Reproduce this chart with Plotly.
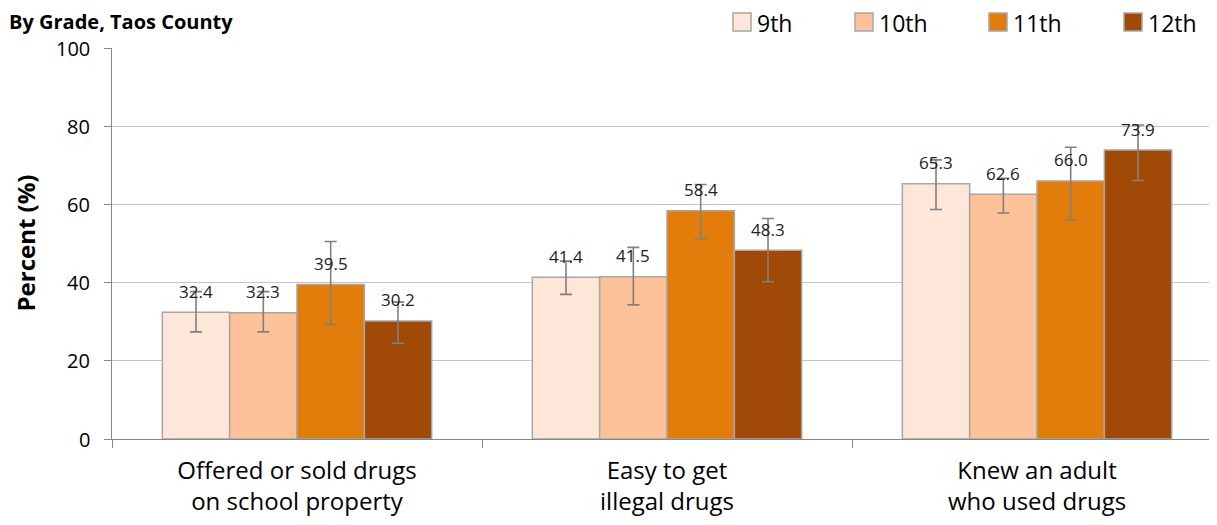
import plotly.graph_objects as go

# data
categories = ["Offered or sold drugs<br>on school property",
              "Easy to get<br>illegal drugs",
              "Knew an adult<br>who used drugs"]
grades = ["9th", "10th", "11th", "12th"]
y_ticks = [0, 20, 40, 60, 80, 100]

pct_9 = [32.4, 41.4, 65.3]
pct_10 = [32.3, 41.5, 62.6]
pct_11 = [39.5, 58.4, 66.0]
pct_12 = [30.2, 48.3, 73.9]

# confidence interval bounds (upper / lower)
upper_9 = [37.7, 45.5, 71.4]
lower_9 = [27.4, 37.0, 58.7]
upper_10 = [37.7, 49.0, 66.7]
lower_10 = [27.4, 34.3, 57.8]
upper_11 = [50.5, 65.1, 74.6]
lower_11 = [29.3, 51.2, 56.0]
upper_12 = [35.0, 56.4, 80.3]
lower_12 = [24.5, 40.2, 66.1]

values = [pct_9, pct_10, pct_11, pct_12]
uppers = [upper_9, upper_10, upper_11, upper_12]
lowers = [lower_9, lower_10, lower_11, lower_12]
colors = ["#FEE6D9", "#FDC299", "#E27C0A", "#A14A07"]

FONT = "Open Sans"
bargap = 0.272

# window pixels -> paper coords (plot area spans x 112..1215, y 48..439 in the page)
def px(wx):
    return (wx - 112) / 1103

def py(wy):
    return 1 + (48 - wy) / 391

fig = go.Figure()
for g, v, up, lo, c in zip(grades, values, uppers, lowers, colors):
    fig.add_trace(go.Bar(
        name=g, x=categories, y=v,
        marker=dict(color=c, line=dict(color="#A6A6A6", width=1.5)),
        error_y=dict(type="data", symmetric=False,
                     array=[u - y for u, y in zip(up, v)],
                     arrayminus=[y - l for l, y in zip(lo, v)],
                     color="#808080", thickness=1.6, width=6),
    ))

# value labels above bars
bw = (1 - bargap) / len(grades)
for j, v in enumerate(values):
    for i, val in enumerate(v):
        fig.add_annotation(x=i + (j - 1.5) * bw, y=val, text=f"{val:.1f}",
                           showarrow=False, yanchor="middle", yshift=21,
                           font=dict(family=FONT, size=17, color="#222222"))

# y tick labels and axis title
for t in y_ticks:
    fig.add_annotation(xref="paper", yref="y", x=px(91), y=t, text=str(t),
                       xanchor="right", yanchor="middle", showarrow=False, borderpad=0,
                       font=dict(family=FONT, size=20, color="#000000"))
fig.add_annotation(xref="paper", yref="paper", x=px(25), y=0.5, textangle=-90,
                   xanchor="center", yanchor="middle", showarrow=False,
                   text="<b>Percent (%)</b>",
                   font=dict(family=FONT, size=24, color="#000000"))

# title
fig.add_annotation(xref="paper", yref="paper", x=px(8), y=py(21),
                   xanchor="left", yanchor="middle", showarrow=False, borderpad=0,
                   text="<b>By Grade, Taos County</b>",
                   font=dict(family=FONT, size=20, color="#000000"))

# legend drawn by hand so the swatches and spacing follow the original
legend_x = [733, 855, 989, 1124]
for g, c, lx in zip(grades, colors, legend_x):
    fig.add_shape(type="rect", xref="paper", yref="paper",
                  x0=px(lx), x1=px(lx + 18), y0=py(31), y1=py(13),
                  fillcolor=c, line=dict(color="#A6A6A6", width=1.5))
    fig.add_annotation(xref="paper", yref="paper", x=px(lx + 22), y=py(23),
                       xanchor="left", yanchor="middle", showarrow=False, text=g,
                       font=dict(family=FONT, size=23, color="#000000"))

# page body has an 8px margin, so the figure is 8px smaller and margins shifted
fig.update_layout(
    width=1209, height=517,
    margin=dict(l=104, r=2, t=40, b=86, autoexpand=False),
    plot_bgcolor="white", paper_bgcolor="white",
    barmode="group", bargap=bargap, bargroupgap=0,
    font=dict(family=FONT, size=20, color="#000000"),
    showlegend=False,
)
fig.update_xaxes(type="category", range=[-0.5, 2.481], automargin=False,
                 showline=True, linecolor="#868686", linewidth=1,
                 ticks="outside", tickson="boundaries", ticklen=8, tickcolor="#868686",
                 ticklabelstandoff=10,
                 tickfont=dict(family=FONT, size=24), showgrid=False)
fig.update_yaxes(range=[0, 100], tickvals=y_ticks, automargin=False,
                 showline=True, linecolor="#868686", linewidth=1,
                 ticks="outside", ticklen=7, tickcolor="#868686", showticklabels=False,
                 showgrid=True, gridcolor="#C4C4C4", gridwidth=1, zeroline=False)

fig.write_html("out.html")
